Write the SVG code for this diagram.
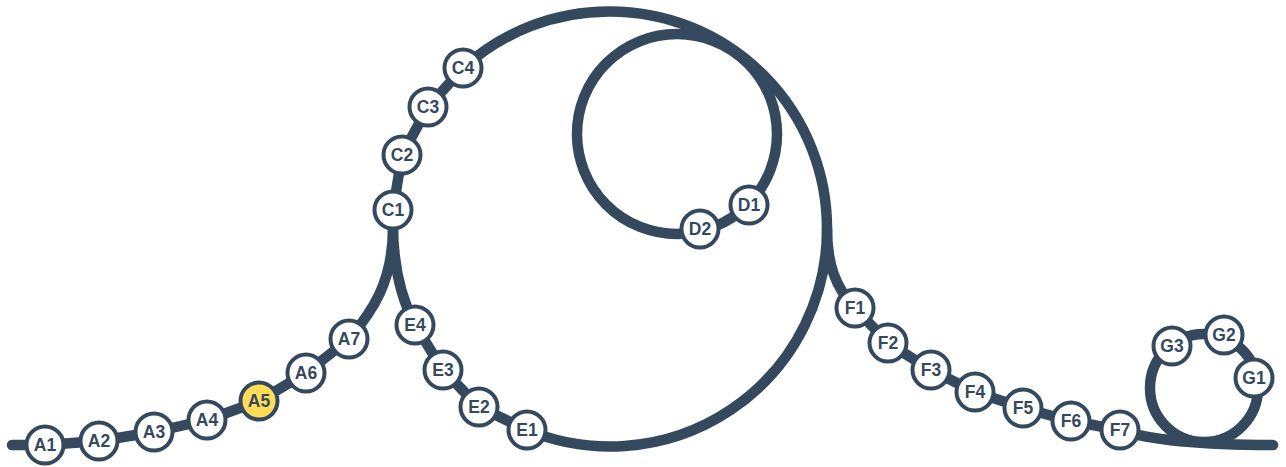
<svg xmlns="http://www.w3.org/2000/svg" width="1286" height="467" viewBox="0 0 1286 467">
<style>
.line{fill:none;stroke:#34495e;stroke-width:10.5;stroke-linecap:round;stroke-linejoin:round}
.node circle{fill:#ffffff;stroke:#34495e;stroke-width:4}
.node.hl circle{fill:#ffdd57}
.node text{font-family:"Liberation Sans",Arial,sans-serif;font-weight:bold;font-size:17.5px;fill:#34495e;text-anchor:middle}
</style>
<rect width="1286" height="467" fill="#ffffff"/>
<g id="connectors">
<path class="line" d="M 12,445 L 45,445 L 99,441 L 154,432 L 207,420 L 259,401 L 306,373 L 349,339 C 372,312 393,282 393,228 L 393,210 L 402,155 L 428,107 L 463,68 A 217 217 0 0 1 610,11.5 A 217 217 0 0 1 827,228.5 C 827,265 836,288 855,308 L 888,343 L 931,370 L 975,392 L 1023,408 L 1071,421 L 1120,430 C 1150,440 1200,445 1273,445"/>
<path class="line" d="M 393,225 C 393,270 402,300 415,325 L 443,370 L 479,407 L 527,430 A 217 217 0 0 0 827,228.5"/>
<circle class="line" cx="677" cy="134" r="100"/>
<circle class="line" cx="1204" cy="388" r="54"/>
</g>
<g id="A1" class="node"><circle cx="45" cy="445" r="18.5"/><text x="45" y="445" dy="0.36em">A1</text></g>
<g id="A2" class="node"><circle cx="99" cy="441" r="18.5"/><text x="99" y="441" dy="0.36em">A2</text></g>
<g id="A3" class="node"><circle cx="154" cy="432" r="18.5"/><text x="154" y="432" dy="0.36em">A3</text></g>
<g id="A4" class="node"><circle cx="207" cy="420" r="18.5"/><text x="207" y="420" dy="0.36em">A4</text></g>
<g id="A5" class="node hl"><circle cx="259" cy="401" r="18.5"/><text x="259" y="401" dy="0.36em">A5</text></g>
<g id="A6" class="node"><circle cx="306" cy="373" r="18.5"/><text x="306" y="373" dy="0.36em">A6</text></g>
<g id="A7" class="node"><circle cx="349" cy="339" r="18.5"/><text x="349" y="339" dy="0.36em">A7</text></g>
<g id="C1" class="node"><circle cx="393" cy="210" r="18.5"/><text x="393" y="210" dy="0.36em">C1</text></g>
<g id="C2" class="node"><circle cx="402" cy="155" r="18.5"/><text x="402" y="155" dy="0.36em">C2</text></g>
<g id="C3" class="node"><circle cx="428" cy="107" r="18.5"/><text x="428" y="107" dy="0.36em">C3</text></g>
<g id="C4" class="node"><circle cx="463" cy="68" r="18.5"/><text x="463" y="68" dy="0.36em">C4</text></g>
<g id="D1" class="node"><circle cx="749" cy="205" r="18.5"/><text x="749" y="205" dy="0.36em">D1</text></g>
<g id="D2" class="node"><circle cx="700" cy="229" r="18.5"/><text x="700" y="229" dy="0.36em">D2</text></g>
<g id="E4" class="node"><circle cx="415" cy="325" r="18.5"/><text x="415" y="325" dy="0.36em">E4</text></g>
<g id="E3" class="node"><circle cx="443" cy="370" r="18.5"/><text x="443" y="370" dy="0.36em">E3</text></g>
<g id="E2" class="node"><circle cx="479" cy="407" r="18.5"/><text x="479" y="407" dy="0.36em">E2</text></g>
<g id="E1" class="node"><circle cx="527" cy="430" r="18.5"/><text x="527" y="430" dy="0.36em">E1</text></g>
<g id="F1" class="node"><circle cx="855" cy="308" r="18.5"/><text x="855" y="308" dy="0.36em">F1</text></g>
<g id="F2" class="node"><circle cx="888" cy="343" r="18.5"/><text x="888" y="343" dy="0.36em">F2</text></g>
<g id="F3" class="node"><circle cx="931" cy="370" r="18.5"/><text x="931" y="370" dy="0.36em">F3</text></g>
<g id="F4" class="node"><circle cx="975" cy="392" r="18.5"/><text x="975" y="392" dy="0.36em">F4</text></g>
<g id="F5" class="node"><circle cx="1023" cy="408" r="18.5"/><text x="1023" y="408" dy="0.36em">F5</text></g>
<g id="F6" class="node"><circle cx="1071" cy="421" r="18.5"/><text x="1071" y="421" dy="0.36em">F6</text></g>
<g id="F7" class="node"><circle cx="1120" cy="430" r="18.5"/><text x="1120" y="430" dy="0.36em">F7</text></g>
<g id="G1" class="node"><circle cx="1254" cy="378" r="18.5"/><text x="1254" y="378" dy="0.36em">G1</text></g>
<g id="G2" class="node"><circle cx="1224" cy="335" r="18.5"/><text x="1224" y="335" dy="0.36em">G2</text></g>
<g id="G3" class="node"><circle cx="1172" cy="346" r="18.5"/><text x="1172" y="346" dy="0.36em">G3</text></g>
</svg>
